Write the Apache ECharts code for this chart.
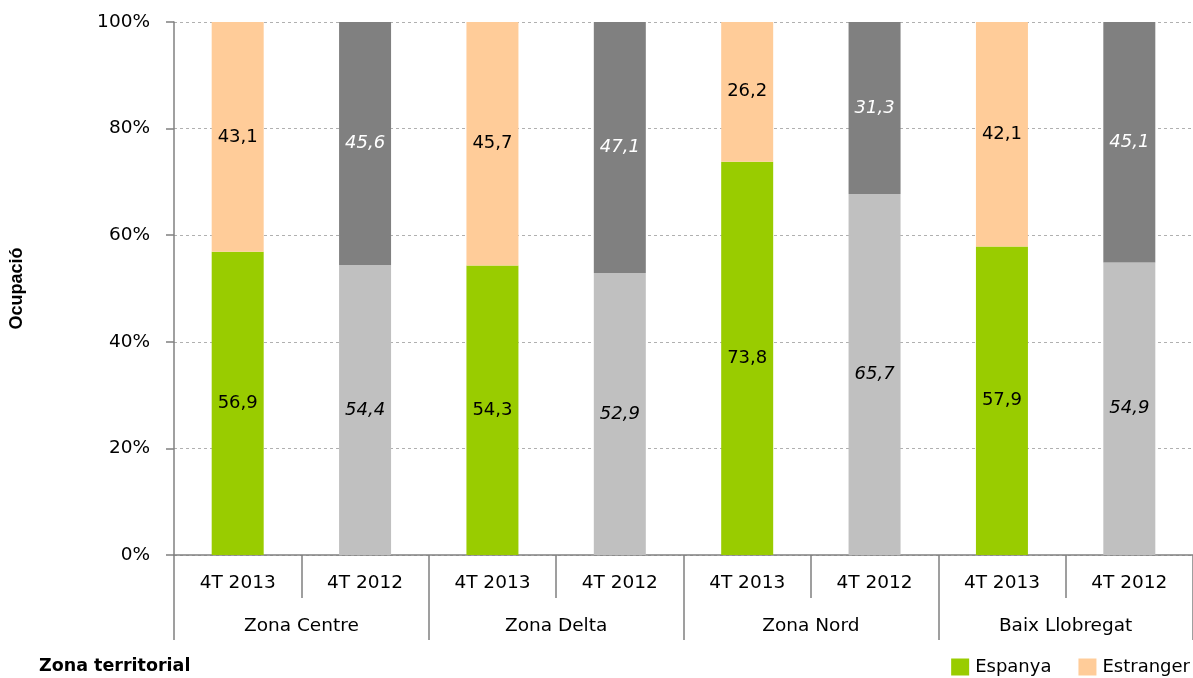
<!DOCTYPE html>
<html>
<head>
<meta charset="utf-8">
<script src="https://cdn.jsdelivr.net/npm/echarts@6/dist/echarts.min.js"></script>
<style>
html,body{margin:0;padding:0;background:#fff;}
#chart{width:1193px;height:678px;}
</style>
</head>
<body>
<div id="chart"></div>
<script>
// ---- data ----
var zones = ['Zona Centre', 'Zona Delta', 'Zona Nord', 'Baix Llobregat'];
var periods = ['4T 2013', '4T 2012'];
var espanya2013 = [56.9, 54.3, 73.8, 57.9];
var estranger2013 = [43.1, 45.7, 26.2, 42.1];
var espanya2012 = [54.4, 52.9, 65.7, 54.9];
var estranger2012 = [45.6, 47.1, 31.3, 45.1];
var yTicks = [0, 20, 40, 60, 80, 100];

// ---- build ----
var FONT = 'DejaVu Sans';
var cats = [];
var espData = [], estData = [];
function fmt(v){ return v.toFixed(1).replace('.', ','); }
zones.forEach(function(z, i){
  // 2013
  cats.push(periods[0]);
  var t1 = espanya2013[i] + estranger2013[i];
  espData.push({ value: espanya2013[i] / t1 * 100, raw: espanya2013[i],
    itemStyle: { color: '#99CC00' },
    label: { color: '#000', fontStyle: 'normal' } });
  estData.push({ value: estranger2013[i] / t1 * 100, raw: estranger2013[i],
    itemStyle: { color: '#FFCC99' },
    label: { color: '#000', fontStyle: 'normal' } });
  // 2012
  cats.push(periods[1]);
  var t2 = espanya2012[i] + estranger2012[i];
  espData.push({ value: espanya2012[i] / t2 * 100, raw: espanya2012[i],
    itemStyle: { color: '#C0C0C0' },
    label: { color: '#000', fontStyle: 'italic' } });
  estData.push({ value: estranger2012[i] / t2 * 100, raw: estranger2012[i],
    itemStyle: { color: '#808080' },
    label: { color: '#fff', fontStyle: 'italic' } });
});

var chart = echarts.init(document.getElementById('chart'), null, { renderer: 'canvas' });
var labelCfg = {
  show: true, position: 'inside', fontFamily: FONT, fontSize: 18,
  formatter: function(p){ return fmt(p.data.raw); }
};
chart.setOption({
  animation: false,
  backgroundColor: '#fff',
  textStyle: { fontFamily: FONT },
  title: {
    text: 'Zona territorial', left: 34, top: 652,
    textStyle: { fontFamily: FONT, fontSize: 17.5, fontWeight: 'bold', color: '#000' }
  },
  legend: {
    right: 1, top: 656, padding: 2, itemWidth: 18, itemHeight: 17, itemGap: 27,
    icon: 'rect',
    textStyle: { fontFamily: FONT, fontSize: 18, color: '#000', padding: [0, 0, 0, 1] },
    data: ['Espanya', 'Estranger']
  },
  grid: { left: 174, top: 22, width: 1021, height: 533, containLabel: false },
  xAxis: [{
    type: 'category', data: cats, position: 'bottom',
    axisLine: { show: true, lineStyle: { color: '#808080', width: 1.5 } },
    axisTick: { show: true, interval: 0, length: 43, lineStyle: { color: '#808080', width: 1.5 } },
    axisLabel: { interval: 0, margin: 19, fontFamily: FONT, fontSize: 18.5, color: '#000' }
  }, {
    type: 'category', data: zones, position: 'bottom',
    axisLine: { show: false },
    axisTick: { show: true, interval: 0, length: 85, lineStyle: { color: '#808080', width: 1.5 } },
    axisLabel: { interval: 0, margin: 62, fontFamily: FONT, fontSize: 18.5, color: '#000' }
  }],
  yAxis: {
    type: 'value', min: yTicks[0], max: yTicks[yTicks.length - 1], interval: 20,
    name: 'Ocupació', nameLocation: 'middle', nameGap: 148, nameRotate: 90,
    nameTextStyle: { fontFamily: 'Liberation Sans Narrow, Liberation Sans', fontSize: 18, fontWeight: 'bold', color: '#000' },
    axisLine: { show: true, lineStyle: { color: '#808080', width: 1.5 } },
    axisTick: { show: true, length: 8, lineStyle: { color: '#808080', width: 1.5 } },
    axisLabel: { formatter: '{value}%', margin: 24, fontFamily: FONT, fontSize: 18.5, color: '#000' },
    splitLine: { show: true, lineStyle: { color: '#B0B0B0', type: [3, 3], width: 1 } }
  },
  series: [{
    name: 'Espanya', type: 'bar', stack: 'tot', barWidth: 52,
    itemStyle: { color: '#99CC00' }, label: labelCfg, data: espData, z: 3
  }, {
    name: 'Estranger', type: 'bar', stack: 'tot', barWidth: 52,
    itemStyle: { color: '#FFCC99' }, label: labelCfg, data: estData, z: 3
  }]
});
</script>
</body>
</html>
